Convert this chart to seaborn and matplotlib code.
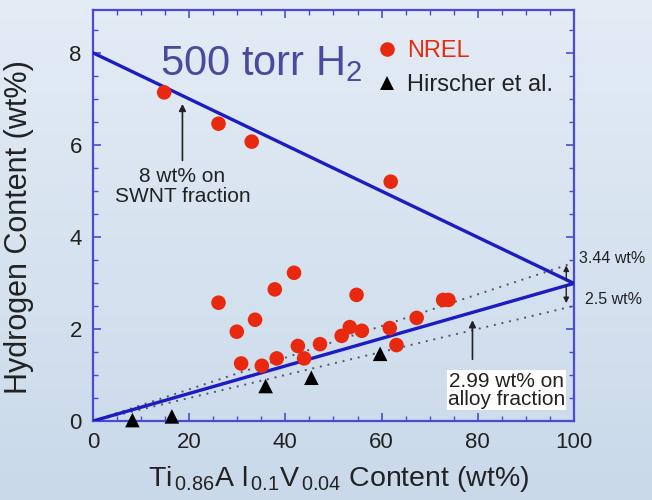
import numpy as np
import pandas as pd
import matplotlib
matplotlib.use("Agg")
import matplotlib.pyplot as plt
import seaborn as sns
from matplotlib.ticker import MultipleLocator
from matplotlib.colors import LinearSegmentedColormap

# ---- data ----
nrel_x = [14.8, 26.1, 33.0, 61.9, 26.1, 29.9, 33.7, 30.8, 35.1, 37.8, 38.2, 41.8,
          42.6, 43.9, 47.2, 51.7, 53.4, 54.8, 55.9, 61.7, 63.1, 67.3, 72.8, 73.9]
nrel_y = [7.14, 6.46, 6.07, 5.20, 2.57, 1.94, 2.20, 1.25, 1.20, 2.86, 1.36, 3.22,
          1.63, 1.36, 1.67, 1.85, 2.04, 2.74, 1.96, 2.02, 1.65, 2.24, 2.63, 2.63]
hirscher_x = [8.2, 16.4, 35.9, 45.4, 59.7]
hirscher_y = [0.02, 0.10, 0.76, 0.94, 1.46]

swnt_line_x = [0, 100]
swnt_line_y = [8.0, 2.99]
alloy_line_x = [0, 100]
alloy_line_y = [0.0, 2.99]
upper_dot_y = [0.0, 3.44]
lower_dot_y = [0.0, 2.5]

x_ticks = [0, 20, 40, 60, 80, 100]
y_ticks = [0, 2, 4, 6, 8]

df = pd.DataFrame({
    "x": nrel_x + hirscher_x,
    "y": nrel_y + hirscher_y,
    "src": ["NREL"] * len(nrel_x) + ["Hirscher et al."] * len(hirscher_x),
})

sns.set_theme(style="ticks")
plt.rcParams["font.family"] = ["Liberation Sans", "DejaVu Sans"]
plt.rcParams["mathtext.fontset"] = "custom"
plt.rcParams["mathtext.rm"] = "Liberation Sans"
plt.rcParams["mathtext.it"] = "Liberation Sans"

BG = "#d6e3ef"
BLUE = "#1c1cc0"
FRAME = "#4b4bd2"
RED = "#e8290f"
TXT = "#222222"

fig = plt.figure(figsize=(6.52, 5.00), dpi=100, facecolor=BG)
bg_ax = fig.add_axes([0, 0, 1, 1], zorder=-10)
grad = np.linspace(0, 1, 256).reshape(-1, 1)
cmap = LinearSegmentedColormap.from_list("bg", ["#e4ecf5", "#c9d9ea"])
bg_ax.imshow(grad, aspect="auto", cmap=cmap, extent=[0, 1, 0, 1], origin="upper")
bg_ax.axis("off")

ax = fig.add_axes([0.1426, 0.158, 0.7377, 0.822])
ax.set_facecolor("none")

ax.plot(swnt_line_x, swnt_line_y, color=BLUE, lw=2.4, zorder=3)
ax.plot(alloy_line_x, alloy_line_y, color=BLUE, lw=2.4, zorder=3)
ax.plot(alloy_line_x, upper_dot_y, color="#555566", lw=1.4, ls=(0, (1, 3)), zorder=2)
ax.plot(alloy_line_x, lower_dot_y, color="#555566", lw=1.4, ls=(0, (1, 3)), zorder=2)

sns.scatterplot(data=df, x="x", y="y", hue="src", style="src",
                palette={"NREL": RED, "Hirscher et al.": "black"},
                markers={"NREL": "o", "Hirscher et al.": "^"},
                s=110, edgecolor="none", linewidth=0, ax=ax, zorder=4,
                clip_on=False)

ax.set_xlim(0, 100)
ax.set_ylim(0, 8.93)
ax.set_xticks(x_ticks)
ax.set_yticks(y_ticks)
ax.set_xticklabels([str(v) for v in x_ticks])
ax.set_yticklabels([str(v) for v in y_ticks])
ax.xaxis.set_minor_locator(MultipleLocator(5))
ax.yaxis.set_minor_locator(MultipleLocator(0.5))
ax.tick_params(which="both", direction="in", top=True, right=True,
               color=FRAME, labelsize=16, labelcolor=TXT, pad=8)
ax.tick_params(which="major", length=6, width=1.2)
ax.tick_params(which="minor", length=3.5, width=1.0)
for sp in ax.spines.values():
    sp.set_color(FRAME)
    sp.set_linewidth(1.6)

ax.set_xlabel(r"Ti$_{\,0.86}$A l$_{\,0.1}$V$_{\,0.04}$ Content (wt%)", fontsize=20.5,
              color=TXT)
ax.xaxis.set_label_coords(0.5 + 5 / 481, -0.105)
ax.set_ylabel("Hydrogen Content (wt%)", fontsize=22, color=TXT)
ax.yaxis.set_label_coords(-0.122, 0.473)

# legend
handles, labels = ax.get_legend_handles_labels()
leg = ax.legend(handles=handles, labels=labels, loc="upper left",
                bbox_to_anchor=(0.537, 0.978), frameon=False, fontsize=17,
                handletextpad=0.25, labelspacing=0.5, markerscale=1.0,
                handlelength=1.2)
for t in leg.get_texts():
    t.set_color(RED if t.get_text() == "NREL" else TXT)

# title
ax.text(13.9, 7.52, r"500 torr H$_2$", fontsize=30, color="#4a4a9c",
        va="baseline", ha="left")

# annotations
ax.annotate("", xy=(18.6, 6.95), xytext=(18.6, 5.6),
            arrowprops=dict(arrowstyle="-|>", color="#222222", lw=1.2,
                            mutation_scale=10))
ax.text(18.6, 5.1, "8 wt% on\nSWNT fraction", fontsize=15, color=TXT,
        ha="center", va="center", linespacing=1.05)

ax.annotate("", xy=(78.9, 2.25), xytext=(78.9, 1.28),
            arrowprops=dict(arrowstyle="-|>", color="#222222", lw=1.2,
                            mutation_scale=10))
ax.text(86.0, 0.67, "2.99 wt% on\nalloy fraction", fontsize=15, color=TXT,
        ha="center", va="center", linespacing=0.95,
        bbox=dict(facecolor="white", edgecolor="none", pad=0.8))

ax.annotate("", xy=(98.4, 3.44), xytext=(98.4, 3.0),
            arrowprops=dict(arrowstyle="-|>", color="#222222", lw=1.0,
                            mutation_scale=8))
ax.annotate("", xy=(98.4, 2.5), xytext=(98.4, 3.0),
            arrowprops=dict(arrowstyle="-|>", color="#222222", lw=1.0,
                            mutation_scale=8))
ax.text(101.0, 3.54, "3.44 wt%", fontsize=11.5, color=TXT, ha="left",
        va="center", clip_on=False)
ax.text(102.3, 2.63, "2.5 wt%", fontsize=11.5, color=TXT, ha="left",
        va="center", clip_on=False)

fig.savefig("out.png", dpi=100, facecolor=fig.get_facecolor())
